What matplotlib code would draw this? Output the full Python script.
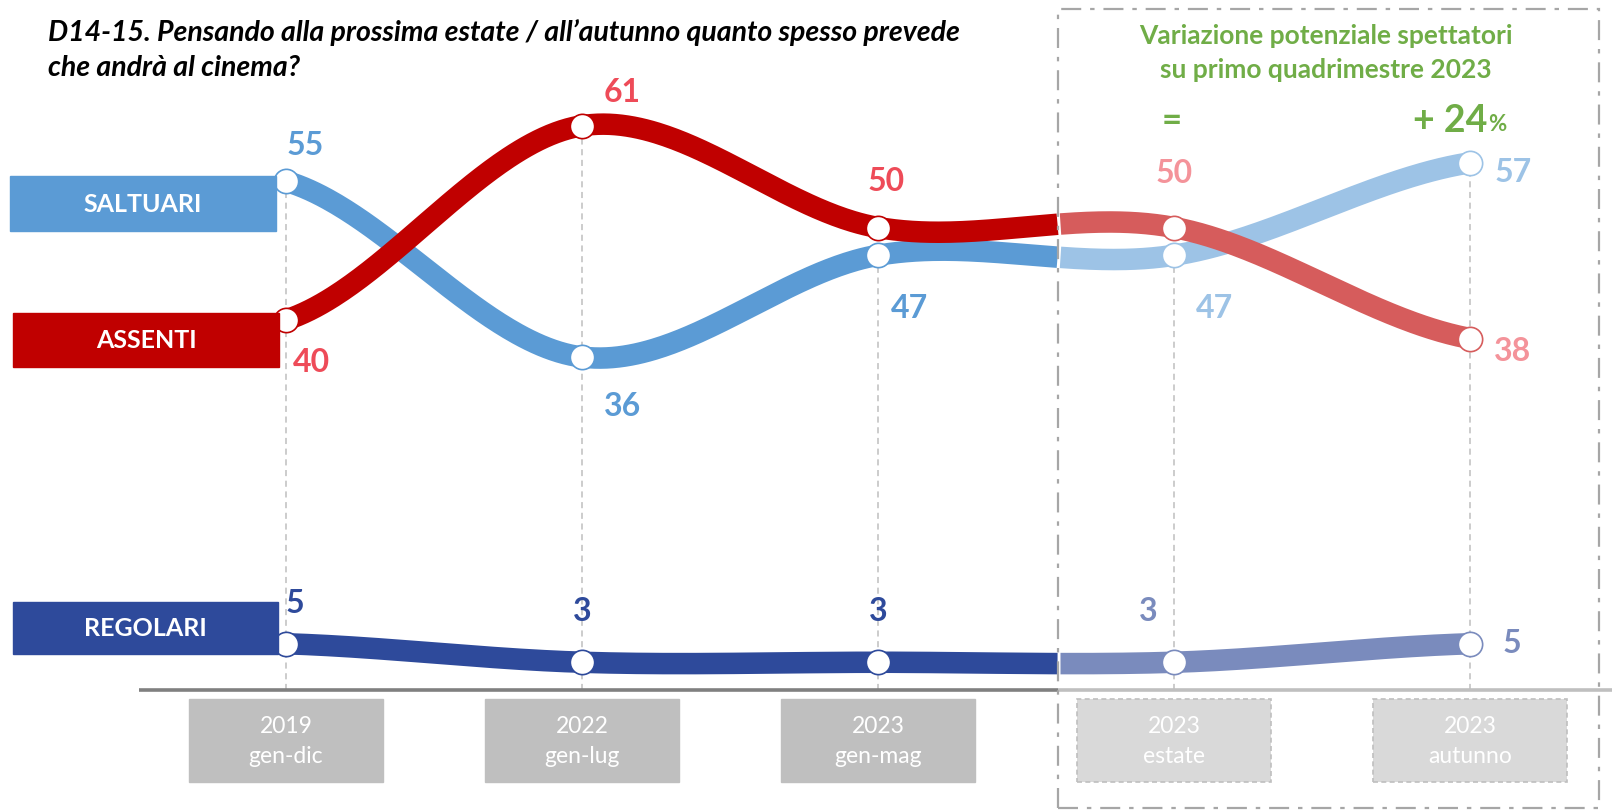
import matplotlib
matplotlib.use("Agg")
import matplotlib.pyplot as plt
import numpy as np
from matplotlib.patches import Rectangle
from matplotlib.transforms import Affine2D

plt.rcParams["font.family"] = ["Lato", "DejaVu Sans"]

# data
periods = ["2019\ngen-dic", "2022\ngen-lug", "2023\ngen-mag", "2023\nestate", "2023\nautunno"]
saltuari = [55, 36, 47, 47, 57]
assenti = [40, 61, 50, 50, 38]
regolari = [5, 3, 3, 3, 5]
n_actual = 3  # first three are observed, the rest are forecasts

W, H = 1612, 812
fig = plt.figure(figsize=(W / 100, H / 100), dpi=100, facecolor="white")
ax = fig.add_axes([0, 0, 1, 1])
X0, DX, Y0, DY = 286, 296, 691, 9.25  # pixel mapping of the data space
ax.set_xlim(-X0 / DX, (W - X0) / DX)
ax.set_ylim(-(H - Y0) / DY, Y0 / DY)
ax.axis("off")

# pixel coordinates measured from the top-left corner
PX = Affine2D().scale(1 / W, -1 / H).translate(0, 1) + fig.transFigure
split = (1058 - X0) / DX  # start of forecast box


def smooth(ys, num=400):
    ys = np.asarray(ys, float)
    m = np.empty_like(ys)
    m[1:-1] = (ys[2:] - ys[:-2]) / 2
    m[0] = (ys[1] - ys[0]) / 2
    m[-1] = (ys[-1] - ys[-2]) / 2
    xs = np.linspace(0, len(ys) - 1, num)
    i = np.minimum(xs.astype(int), len(ys) - 2)
    t = xs - i
    h00 = 2 * t**3 - 3 * t**2 + 1
    h10 = t**3 - 2 * t**2 + t
    h01 = -2 * t**3 + 3 * t**2
    h11 = t**3 - t**2
    return xs, h00 * ys[i] + h10 * m[i] + h01 * ys[i + 1] + h11 * m[i + 1]


x = np.arange(len(periods))

# vertical guide lines
tops = np.max([saltuari, assenti, regolari], axis=0)
for xi, top in zip(x, tops):
    ax.plot([xi, xi], [0, top], color="#BFBFBF", lw=1.1, ls=(0, (4, 3)), zorder=1)

# baseline
ax.plot([(139 - X0) / DX, split], [0, 0], color="#808080", lw=2.6, zorder=1, solid_capstyle="butt")
ax.plot([split, (W - X0) / DX], [0, 0], color="#BFBFBF", lw=2.6, zorder=1, solid_capstyle="butt")

series = [
    ("REGOLARI", regolari, "#2E4A9B", "#7A8BBD", "#2E4A9B", "#7A8BBD",
     [(9, 41), (0, 52), (0, 52), (-26, 52), (42, 1)], (13, 603, 278, 655)),
    ("SALTUARI", saltuari, "#5B9BD5", "#9DC3E6", "#5B9BD5", "#9DC3E6",
     [(19, 37), (40, -49), (32, -52), (41, -52), (43, -9)], (10, 177, 276, 232)),
    ("ASSENTI", assenti, "#C00000", "#D65C5C", "#EE4B58", "#F4939A",
     [(25, -42), (40, 34), (8, 47), (0, 55), (43, -12)], (13, 314, 279, 368)),
]

for z, (name, vals, dark, light, lab_dark, lab_light, offs, box) in enumerate(series):
    xs, ys = smooth(vals)
    k = xs <= split
    ax.plot(xs[k], ys[k], color=dark, lw=15.5, solid_capstyle="butt", zorder=2 + z)
    ax.plot(xs[~k], ys[~k], color=light, lw=15.5, solid_capstyle="butt", zorder=2 + z)
    for i, v in enumerate(vals):
        c = dark if i < n_actual else light
        lc = lab_dark if i < n_actual else lab_light
        ax.plot(i, v, "o", ms=17.5, mfc="white", mec=c, mew=1.2, zorder=10)
        ax.annotate(str(v), (i, v), xytext=(offs[i][0], offs[i][1]), textcoords="offset pixels",
                    ha="center", va="center", fontsize=23, fontweight="bold", color=lc, zorder=11)
    x1, y1, x2, y2 = box
    fig.patches.append(Rectangle((x1, y2), x2 - x1, y1 - y2, transform=PX, color=dark, zorder=0))
    fig.text((x1 + x2) / 2 / W, 1 - (y1 + y2) / 2 / H, name, ha="center", va="center",
             fontsize=18, fontweight="bold", color="white")

# category boxes
bw, bt, bb = 0.655, (Y0 - 700) / DY, (Y0 - 783) / DY
for i, lab in enumerate(periods):
    if i < n_actual:
        ax.add_patch(Rectangle((i - bw / 2, bb), bw, bt - bb, color="#BFBFBF", zorder=1))
    else:
        ax.add_patch(Rectangle((i - bw / 2, bb), bw, bt - bb, facecolor="#D9D9D9",
                               edgecolor="#BFBFBF", lw=1.2, ls=(0, (3, 2)), zorder=1))
    ax.text(i, (bt + bb) / 2, lab, ha="center", va="center", fontsize=16.5, color="white",
            linespacing=1.55, zorder=2)

# forecast frame
fig.patches.append(Rectangle((1058, 809), 1599 - 1058, 10 - 809, transform=PX, fill=False,
                             edgecolor="#A6A6A6", lw=1.6, ls=(0, (9, 4, 2, 4))))

green = "#70AD47"
fig.text(1326 / W, 1 - 36 / H, "Variazione potenziale spettatori",
         ha="center", va="center", fontsize=19, fontweight="bold", color=green)
fig.text(1326 / W, 1 - 70 / H, "su primo quadrimestre 2023", ha="center", va="center",
         fontsize=19, fontweight="bold", color=green)
fig.text(1172 / W, 1 - 121 / H, "=", ha="center", va="center", fontsize=25, fontweight="bold", color=green)
fig.text(1487 / W, 1 - 121 / H, "+ 24", ha="right", va="center", fontsize=27, fontweight="bold", color=green)
fig.text(1488 / W, 1 - 125 / H, "%", ha="left", va="center", fontsize=16, fontweight="bold", color=green)

# title
fig.text(48 / W, 1 - 33 / H, "D14-15. Pensando alla prossima estate / all’autunno quanto spesso prevede",
         ha="left", va="center", fontsize=20.5, fontweight="bold", style="italic", color="black")
fig.text(48 / W, 1 - 68 / H, "che andrà al cinema?", ha="left", va="center", fontsize=20.5,
         fontweight="bold", style="italic", color="black")

fig.savefig("out.png", dpi=100, facecolor="white")
